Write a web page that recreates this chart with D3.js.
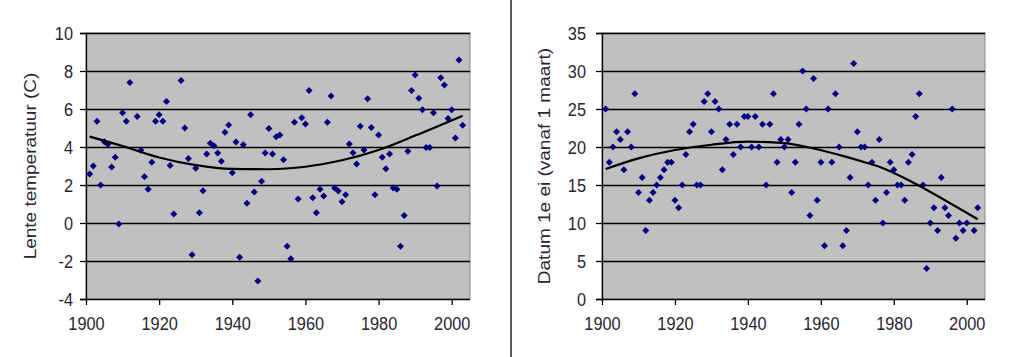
<!DOCTYPE html>
<html>
<head>
<meta charset="utf-8">
<script src="https://cdn.jsdelivr.net/npm/d3@7"></script>
<style>
  html, body { margin: 0; padding: 0; background: #ffffff; }
  svg { display: block; }
  text { font-family: "Liberation Sans", Arial, sans-serif; }
</style>
</head>
<body>
<svg id="chart" width="1024" height="357"></svg>
<script>
// ---------- data ----------
const tempYears = [1901,1902,1903,1904,1905,1906,1907,1908,1909,1910,1911,1912,1914,1915,1916,1917,1918,1919,1920,1921,1922,1923,1924,1926,1927,1928,1929,1930,1931,1932,1933,1934,1935,1936,1937,1938,1939,1940,1941,1942,1943,1944,1945,1946,1947,1948,1949,1950,1951,1952,1953,1954,1955,1956,1957,1958,1959,1960,1961,1962,1963,1964,1965,1966,1967,1968,1969,1970,1971,1972,1973,1974,1975,1976,1977,1978,1979,1980,1981,1982,1983,1984,1985,1986,1987,1988,1989,1990,1991,1992,1993,1994,1995,1996,1997,1998,1999,2000,2001,2002,2003];
const tempValues = [2.58,3.0,5.35,2.0,4.28,4.15,2.95,3.46,-0.05,5.8,5.35,7.4,5.6,3.83,2.44,1.77,3.2,5.35,5.7,5.35,6.4,3.02,0.47,7.5,5.0,3.4,-1.67,2.88,0.54,1.7,3.63,4.2,4.07,3.68,3.25,4.77,5.16,2.65,4.26,-1.8,4.12,1.04,5.7,1.63,-3.05,2.2,3.68,4.98,3.63,4.54,4.63,3.33,-1.23,-1.88,5.3,1.26,5.54,5.21,6.98,1.33,0.54,1.77,1.42,5.3,6.68,1.84,1.68,1.12,1.49,4.16,3.7,3.1,5.09,3.84,6.54,5.02,1.49,4.63,3.46,2.86,3.63,1.84,1.77,-1.23,0.4,3.77,6.98,7.79,6.56,5.96,3.98,3.98,5.8,1.95,7.65,7.26,5.5,5.96,4.47,8.58,5.14];
const tempTrendYears = [1901,1910,1920,1930,1940,1950,1960,1970,1980,1990,2003];
const tempTrendValues = [4.55,4.05,3.45,3.05,2.85,2.83,2.96,3.3,3.84,4.6,5.65];

const eggYears = [1901,1902,1903,1904,1905,1906,1907,1908,1909,1910,1911,1912,1913,1914,1915,1916,1917,1918,1919,1920,1921,1922,1923,1924,1925,1926,1927,1928,1929,1930,1931,1932,1933,1934,1935,1936,1937,1938,1939,1940,1941,1942,1943,1944,1945,1946,1947,1948,1949,1950,1951,1952,1953,1954,1955,1956,1957,1958,1959,1960,1961,1962,1963,1964,1965,1966,1967,1968,1969,1970,1971,1972,1973,1974,1975,1976,1977,1978,1979,1980,1981,1982,1983,1984,1985,1986,1987,1988,1989,1990,1991,1992,1993,1994,1995,1996,1997,1998,1999,2000,2002,2003];
const eggValues = [25,18,20,22,21,17,22,20,27,14,16,9,13,14,15,16,17,18,18,13,12,15,19,22,23,15,15,26,27,22,26,25,17,21,23,19,23,20,24,24,20,24,20,23,15,23,27,18,21,20,21,14,18,23,30,25,11,29,13,18,7,25,18,27,20,7,9,16,31,22,20,20,15,18,13,21,10,14,18,17,15,15,13,18,19,24,27,15,4,10,12,9,16,12,11,25,8,10,9,10,9,12];
const eggTrendYears = [1901,1910,1920,1930,1940,1950,1958,1967,1972,1976,1985,1994,2003];
const eggTrendValues = [17.1,18.5,19.6,20.3,20.7,20.5,19.8,18.7,18.0,17.4,15.4,13.0,10.5];

const xTicks = [1900,1920,1940,1960,1980,2000];
const tempTicks = [-4,-2,0,2,4,6,8,10];
const eggTicks = [0,5,10,15,20,25,30,35];

// ---------- drawing ----------
const svg = d3.select("#chart");
const textColor = "#2a2430";
const fontSize = 19;
const squeeze = 0.86;
const plainFormat = d => String(d);

function drawPanel(cfg) {
  const g = svg.append("g");
  const x = d3.scaleLinear().domain([1900, 2005]).range([cfg.left, cfg.right]);
  const y = d3.scaleLinear().domain(cfg.yDomain).range([cfg.bottom, cfg.top]);

  // plot area
  g.append("rect")
    .attr("x", cfg.left).attr("y", cfg.top)
    .attr("width", cfg.right - cfg.left).attr("height", cfg.bottom - cfg.top)
    .attr("fill", "#c0c0c0").attr("stroke", "#8a8a8a").attr("stroke-width", 1);

  // gridlines
  g.append("g").selectAll("line").data(cfg.yTicks.filter(t => t !== cfg.yDomain[0]))
    .join("line")
    .attr("x1", cfg.left).attr("x2", cfg.right)
    .attr("y1", d => Math.round(y(d)) + 0.5).attr("y2", d => Math.round(y(d)) + 0.5)
    .attr("stroke", "#000").attr("stroke-width", 1.3);

  // y axis
  const yAxis = d3.axisLeft(y).tickValues(cfg.yTicks).tickSize(6).tickPadding(cfg.yPad).tickFormat(plainFormat);
  const ya = g.append("g").attr("transform", `translate(${cfg.left},0)`).call(yAxis);
  ya.select(".domain").attr("stroke", "#000").attr("stroke-width", 1.3);
  ya.selectAll(".tick line").attr("stroke", "#000").attr("stroke-width", 1.3);
  ya.selectAll(".tick text")
    .attr("x", 0)
    .attr("transform", `translate(${-(6 + cfg.yPad)},0) scale(${squeeze},1)`)
    .attr("fill", textColor).style("font-size", fontSize + "px")
    .style("font-family", "'Liberation Sans', Arial, sans-serif");

  // x axis
  const xAxis = d3.axisBottom(x).tickValues(xTicks).tickSize(6).tickPadding(12).tickFormat(plainFormat);
  const xa = g.append("g").attr("transform", `translate(0,${cfg.bottom})`).call(xAxis);
  xa.select(".domain").attr("stroke", "#000").attr("stroke-width", 1.3).attr("d", `M${cfg.left},0.5H${cfg.right}`);
  xa.selectAll(".tick line").attr("stroke", "#000").attr("stroke-width", 1.3);
  xa.selectAll(".tick text")
    .attr("transform", `scale(${squeeze},1)`)
    .attr("fill", textColor).style("font-size", fontSize + "px")
    .style("font-family", "'Liberation Sans', Arial, sans-serif");

  // y label
  g.append("text")
    .attr("transform", `translate(${cfg.labelX},${(cfg.top + cfg.bottom) / 2}) scale(${squeeze},1) rotate(-90)`)
    .attr("text-anchor", "middle")
    .attr("dominant-baseline", "middle")
    .attr("fill", textColor)
    .style("font-size", fontSize + "px")
    .text(cfg.label);

  // markers
  const pts = cfg.years.map((yr, i) => ({ yr, v: cfg.values[i] }));
  const r = 3.5;
  g.append("g").selectAll("path").data(pts).join("path")
    .attr("transform", d => `translate(${x(d.yr)},${y(d.v)})`)
    .attr("d", `M0,${-r}L${r},0L0,${r}L${-r},0Z`)
    .attr("fill", "#000080");

  // trend line
  const trend = cfg.trendYears.map((yr, i) => ({ yr, v: cfg.trendValues[i] }));
  g.append("path").datum(trend)
    .attr("d", d3.line().x(d => x(d.yr)).y(d => y(d.v)).curve(d3.curveMonotoneX))
    .attr("fill", "none").attr("stroke", "#000").attr("stroke-width", 2.2);
}

drawPanel({
  left: 86, right: 470, top: 33, bottom: 299,
  yDomain: [-4, 10], yTicks: tempTicks, yPad: 7,
  years: tempYears, values: tempValues,
  trendYears: tempTrendYears, trendValues: tempTrendValues,
  label: "Lente temperatuur (C)", labelX: 32
});

drawPanel({
  left: 602, right: 985, top: 33, bottom: 299,
  yDomain: [0, 35], yTicks: eggTicks, yPad: 10,
  years: eggYears, values: eggValues,
  trendYears: eggTrendYears, trendValues: eggTrendValues,
  label: "Datum 1e ei (vanaf 1 maart)", labelX: 546
});

// divider
svg.append("line").attr("x1", 511).attr("x2", 511).attr("y1", 0).attr("y2", 357)
  .attr("stroke", "#333").attr("stroke-width", 1.6);
</script>
</body>
</html>
